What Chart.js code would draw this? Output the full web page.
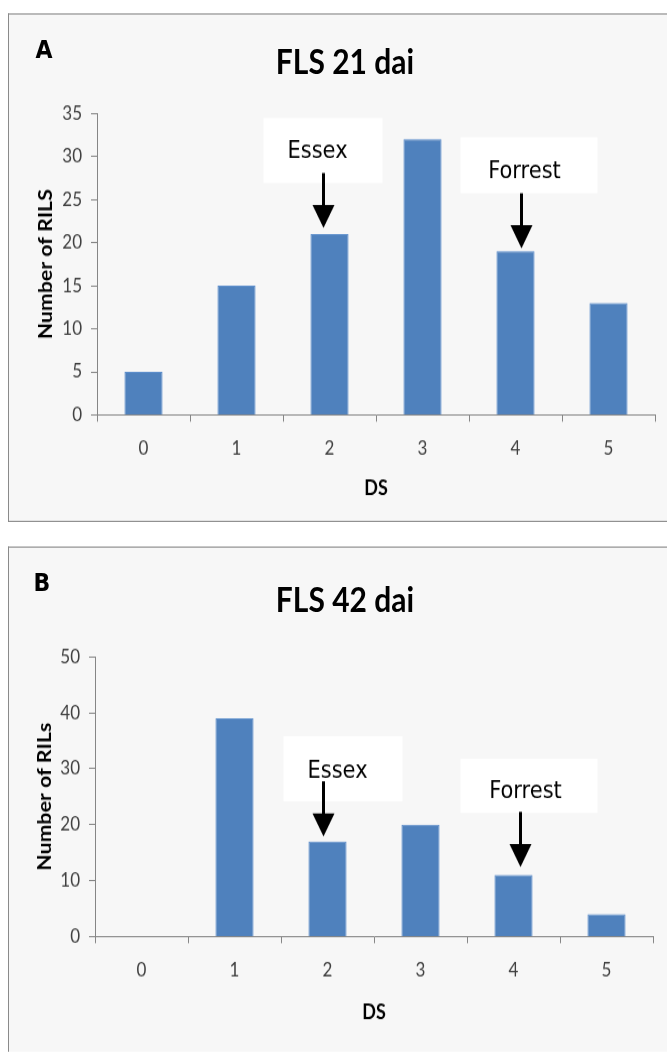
<!DOCTYPE html>
<html>
<head>
<meta charset="utf-8">
<script src="https://cdn.jsdelivr.net/npm/chart.js@4.4.1/dist/chart.umd.min.js"></script>
<style>
html, body { margin: 0; padding: 0; background: #fff; overflow: hidden; width: 667px; height: 1052px; }
#page { position: absolute; left: 0; top: 0; width: 667px; transform-origin: 0 0; overflow: hidden; }
.panel { position: absolute; left: 8px; width: 720px; background: #f7f7f7; border: 1px solid #8a8a8a; border-right: none; box-sizing: border-box; }
.panel canvas { position: absolute; left: 0; top: 0; }
.lbl { position: absolute; font-family: Lato, sans-serif; font-weight: bold; color: #000; white-space: nowrap; transform: translate(-50%, -50%); line-height: 1; }
.letter { font-family: "DejaVu Sans", sans-serif; }
</style>
</head>
<body>
<div id="page"></div>
<script>
// the figure was stretched a bit vertically, so everything is drawn
// in a box that is scaled by S in y
const S = 1.12;

// ---- data ----
const dsLabels = ['0', '1', '2', '3', '4', '5'];
const rils21 = [5, 15, 21, 32, 19, 13];
const rils42 = [0, 39, 17, 20, 11, 4];
const yMax21 = 35, yStep21 = 5;
const yMax42 = 50, yStep42 = 10;
const parentNames = ['Essex', 'Forrest'];
const parentDS = [2, 4];

// Layout of each panel, in page pixels
const panels = [
    {
        letter: 'A', title: 'FLS 21 dai', yTitle: 'Number of RILS',
        values: rils21, yMax: yMax21, yStep: yStep21,
        top: 13, bottom: 522,
        plot: { left: 97, right: 655, top: 113, bottom: 415 },
        titleY: 60, letterX: 44, letterY: 50, yTitleX: 46, dsY: 489,
        notes: [
            { dx: -6, gap: 6, box: [-60, 59, -110, -45], text: [-6, -76] },
            { dx: 6, gap: 3, box: [-61, 76, -111, -55], text: [3, -76] }
        ]
    },
    {
        letter: 'B', title: 'FLS 42 dai', yTitle: 'Number of RILs',
        values: rils42, yMax: yMax42, yStep: yStep42,
        top: 547, bottom: 1062,
        plot: { left: 95, right: 653, top: 657, bottom: 937 },
        titleY: 598, letterX: 42, letterY: 583, yTitleX: 45, dsY: 1013,
        notes: [
            { dx: -4, gap: 5, box: [-40, 79, -100, -35], text: [14, -65] },
            { dx: 7, gap: 8, box: [-60, 77, -108, -54], text: [5, -75] }
        ]
    }
];

// Draws the white boxes with the parent names and the arrows
const notesPlugin = {
    id: 'notes',
    afterDatasetsDraw(chart, args, opts) {
        const ctx = chart.ctx;
        const xs = chart.scales.x, ys = chart.scales.y;
        const vals = chart.data.datasets[0].data;
        opts.items.forEach((n) => {
            const ax = xs.getPixelForValue(n.cat) + n.dx;
            const tip = ys.getPixelForValue(vals[n.cat]) - n.gap / S;
            ctx.save();
            ctx.fillStyle = '#ffffff';
            ctx.fillRect(ax + n.box[0], tip + n.box[2] / S,
                n.box[1] - n.box[0], (n.box[3] - n.box[2]) / S);
            ctx.fillStyle = '#000';
            ctx.font = '21px "DejaVu Sans"';
            ctx.textAlign = 'center';
            ctx.textBaseline = 'middle';
            ctx.fillText(n.name, ax + n.text[0], tip + n.text[1] / S);
            // shaft
            ctx.strokeStyle = '#000';
            ctx.lineWidth = 3;
            ctx.beginPath();
            ctx.moveTo(ax, tip - 55 / S);
            ctx.lineTo(ax, tip - 20 / S);
            ctx.stroke();
            // head
            ctx.beginPath();
            ctx.moveTo(ax - 11, tip - 23 / S);
            ctx.lineTo(ax + 11, tip - 23 / S);
            ctx.lineTo(ax, tip);
            ctx.closePath();
            ctx.fill();
            ctx.restore();
        });
    }
};

Chart.defaults.font.family = 'Lato, sans-serif';
const page = document.getElementById('page');
page.style.transform = 'scaleY(' + S + ')';
page.style.height = (1052 / S) + 'px';

panels.forEach((p) => {
    const div = document.createElement('div');
    div.className = 'panel';
    div.style.top = (p.top / S) + 'px';
    div.style.height = ((p.bottom - p.top) / S) + 'px';
    page.appendChild(div);

    const cw = 658;
    const ch = (p.bottom - p.top) / S - 2;
    const cy = (py) => (py - p.top) / S - 1;
    const canvas = document.createElement('canvas');
    canvas.width = cw;
    canvas.height = ch;
    canvas.style.width = cw + 'px';
    canvas.style.height = ch + 'px';
    div.appendChild(canvas);

    // title and panel letter
    const t = document.createElement('div');
    t.className = 'lbl';
    t.style.left = '345px';
    t.style.top = (p.titleY / S) + 'px';
    t.style.fontSize = '30px';
    t.textContent = p.title;
    page.appendChild(t);
    const l = document.createElement('div');
    l.className = 'lbl letter';
    l.style.left = p.letterX + 'px';
    l.style.top = (p.letterY / S) + 'px';
    l.style.fontSize = '22px';
    l.textContent = p.letter;
    page.appendChild(l);

    const yAxisW = p.plot.left - 9;
    const xAxisH = ch - cy(p.plot.bottom);
    const items = parentNames.map((name, i) => Object.assign({ name: name, cat: parentDS[i] }, p.notes[i]));

    new Chart(canvas, {
        type: 'bar',
        data: {
            labels: dsLabels,
            datasets: [{
                data: p.values,
                backgroundColor: '#4f81bd',
                borderColor: '#5b8dcb',
                borderWidth: 1,
                categoryPercentage: 1.0,
                barPercentage: 0.41
            }]
        },
        options: {
            responsive: false,
            maintainAspectRatio: false,
            animation: false,
            devicePixelRatio: 1,
            layout: {
                padding: { top: cy(p.plot.top), right: 667 - p.plot.right, bottom: 0, left: 0 }
            },
            plugins: {
                legend: { display: false },
                tooltip: { enabled: false },
                notes: { items: items }
            },
            scales: {
                x: {
                    grid: { drawOnChartArea: false, drawTicks: true, tickLength: 6, color: '#868686' },
                    border: { color: '#868686', width: 1 },
                    ticks: { color: '#404040', font: { size: 17 }, padding: 14, maxRotation: 0 },
                    title: {
                        display: true, text: 'DS', color: '#000',
                        font: { size: 18, weight: 'bold' },
                        padding: { top: 0, bottom: ch - cy(p.dsY) - 10.8 }
                    },
                    afterFit: (s) => { s.height = xAxisH; }
                },
                y: {
                    min: 0,
                    max: p.yMax,
                    grid: { drawOnChartArea: false, drawTicks: true, tickLength: 6, color: '#868686' },
                    border: { color: '#868686', width: 1 },
                    ticks: { stepSize: p.yStep, color: '#404040', font: { size: 17 }, padding: 9 },
                    title: {
                        display: true, text: p.yTitle, color: '#000',
                        font: { size: 19, weight: 'bold' },
                        padding: { top: p.yTitleX - 9 - 11.4, bottom: 0 }
                    },
                    afterFit: (s) => { s.width = yAxisW; }
                }
            }
        },
        plugins: [notesPlugin]
    });
});
</script>
</body>
</html>
